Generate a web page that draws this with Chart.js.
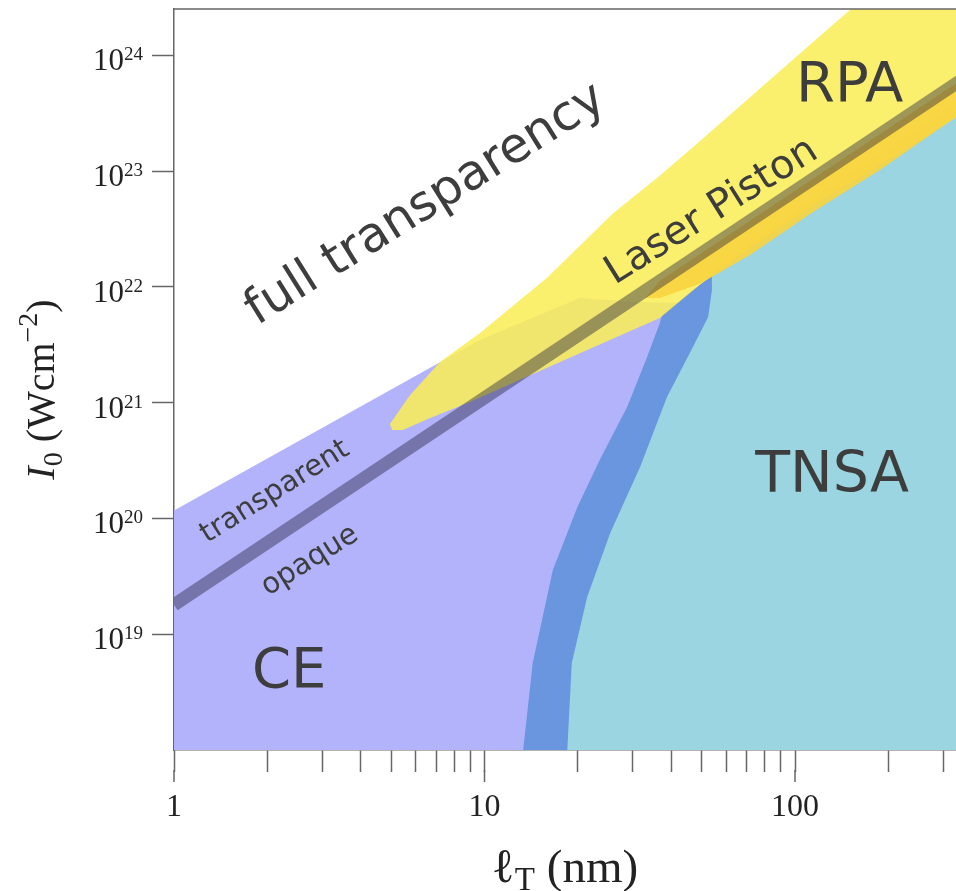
<!DOCTYPE html>
<html>
<head>
<meta charset="utf-8">
<script src="https://cdn.jsdelivr.net/npm/chart.js@4.4.1/dist/chart.umd.min.js"></script>
<style>
  html, body { margin: 0; padding: 0; background: #fff; }
  #wrap { width: 956px; height: 891px; position: relative; }
</style>
</head>
<body>
<div id="wrap"><canvas id="regimes"></canvas></div>
<script>
// target thickness l_T (nm) against intensity I0 (W/cm^2), both log
const xTicks = [1, 2, 3, 4, 5, 6, 7, 8, 9, 10, 20, 30, 40, 50, 60, 70, 80, 90, 100, 200, 300];
const xLabelled = [1, 10, 100];
const yTicks = [1e19, 1e20, 1e21, 1e22, 1e23, 1e24];

// regime outlines, each walked round as a closed shape
const ceX = [0.9, 0.9, 9.67, 20.3, 30.5, 45.9, 46.9, 38.7, 31.7, 25.4, 21.4, 19.1, 18.4];
const ceY = [8e17, 1.0e20, 3.47e21, 8.0e21, 7.4e21, 7.2e21, 3.02e21, 1.12e21, 2.78e20, 7.48e19, 2.09e19, 5.64e18, 8e17];

const edgeX = [13.2, 14.3, 16.6, 19.9, 23.5, 28.8, 33.4, 36.7, 37.3, 45.9, 54.0, 71.6, 114.3, 187.8, 330, 457, 457];
const edgeY = [8e17, 5.64e18, 3.58e19, 1.25e20, 3.19e20, 9.16e20, 2.48e21, 4.86e21, 5.7e21, 9.0e21, 1.26e22, 2.30e22, 5.62e22, 1.37e23, 3.72e23, 6.6e23, 8e17];

const tnsaX = [18.4, 19.1, 21.4, 25.4, 31.7, 38.7, 46.9, 52.5, 54.0, 54.0, 71.6, 114.3, 187.8, 330, 457, 457];
const tnsaY = [8e17, 5.64e18, 2.09e19, 7.48e19, 2.78e20, 1.12e21, 3.02e21, 5.48e21, 9.38e21, 1.26e22, 2.30e22, 5.62e22, 1.37e23, 3.72e23, 6.6e23, 8e17];

const rpaX = [4.96, 5.75, 7.19, 9.67, 15.9, 25.9, 36.5, 46.9, 70.0, 114.3, 150, 188, 457, 457, 187.8, 114.3, 71.6, 49.4, 36.7, 24.1, 14.8, 8.98, 6.68, 5.46, 5.04];
const rpaY = [6.53e20, 1.16e21, 2.24e21, 3.99e21, 1.2e22, 4.3e22, 9.0e22, 1.6e23, 4.10e23, 1.30e24, 2.45e24, 4.46e24, 4.46e24, 5.0e23, 1.13e23, 5.08e22, 2.16e22, 1.04e22, 5.38e21, 3.27e21, 1.84e21, 1.01e21, 7.36e20, 5.8e20, 5.8e20];

const pistonX = [32.9, 36.7, 457, 457, 330, 187.8, 114.3, 71.6, 49.4, 36.7];
const pistonY = [8.0e21, 1.12e22, 1.02e24, 5.0e23, 2.92e23, 1.02e23, 4.43e22, 1.88e22, 1.06e22, 8.0e21];

// transparent / opaque boundary
const boundaryX = [1, 457];
const boundaryY = [1.79e19, 1.02e24];

// region names, anchored in data units
const labelText = ['full transparency', 'Laser Piston', 'transparent', 'opaque', 'RPA', 'TNSA', 'CE'];
const labelX = [6.48, 54.0, 2.115, 2.74, 150, 131.6, 2.35];
const labelY = [5.08e22, 4.43e22, 1.69e20, 4.29e19, 5.42e23, 2.28e20, 4.72e18];
const labelSize = [49, 40, 29, 29, 56, 57, 56];
const labelAngle = [-32, -32, -32, -32, 0, 0, 0];

const axisColor = '#666';
const serif = '"Liberation Serif", "DejaVu Serif", serif';

function region(xs, ys, colour) {
    return {
        data: xs.map((v, i) => ({ x: v, y: ys[i] })),
        showLine: true,
        fill: 'shape',
        backgroundColor: colour,
        borderColor: 'transparent',
        borderWidth: 0,
        pointRadius: 0,
        clip: 0
    };
}

// draws runs of text with their own font and baseline shift, centred on cx
function richText(ctx, parts, cx, cy) {
    let w = 0;
    parts.forEach(p => { ctx.font = p.font; p.w = ctx.measureText(p.t).width; w += p.w; });
    let px = cx - w / 2;
    ctx.textAlign = 'left';
    ctx.textBaseline = 'alphabetic';
    parts.forEach(p => {
        ctx.font = p.font;
        ctx.fillText(p.t, px, cy + (p.dy || 0));
        px += p.w;
    });
}

const decorations = {
    id: 'decorations',
    afterDatasetsDraw(chart) {
        const { ctx, scales: { x, y } } = chart;
        ctx.save();
        ctx.fillStyle = '#3d3d3d';
        ctx.textAlign = 'center';
        ctx.textBaseline = 'middle';
        labelText.forEach((t, i) => {
            ctx.save();
            ctx.translate(x.getPixelForValue(labelX[i]), y.getPixelForValue(labelY[i]));
            ctx.rotate(labelAngle[i] * Math.PI / 180);
            ctx.font = labelSize[i] + 'px "DejaVu Sans"';
            ctx.fillText(t, 0, 0);
            ctx.restore();
        });
        ctx.restore();
    },
    afterDraw(chart) {
        const { ctx, chartArea: a, scales: { x, y } } = chart;
        ctx.save();
        ctx.strokeStyle = axisColor;
        ctx.lineWidth = 1.5;

        // frame along the top
        ctx.beginPath();
        ctx.moveTo(a.left, a.top);
        ctx.lineTo(a.right, a.top);
        ctx.stroke();

        // decades get the longer mark
        xLabelled.forEach(v => {
            const px = x.getPixelForValue(v);
            ctx.beginPath();
            ctx.moveTo(px, a.bottom + 20);
            ctx.lineTo(px, a.bottom + 32);
            ctx.stroke();
        });

        // 10^n labels on the y axis
        ctx.fillStyle = '#222';
        ctx.textBaseline = 'alphabetic';
        ctx.textAlign = 'right';
        yTicks.forEach(v => {
            const py = y.getPixelForValue(v);
            const e = String(Math.round(Math.log10(v)));
            ctx.font = '19px ' + serif;
            const ew = ctx.measureText(e).width;
            ctx.fillText(e, a.left - 31, py + 5);
            ctx.font = '31px ' + serif;
            ctx.fillText('10', a.left - 31 - ew, py + 15);
        });

        // axis titles
        richText(ctx, [
            { t: 'ℓ', font: '48px ' + serif },
            { t: 'T', font: '33px ' + serif, dy: 8 },
            { t: ' (nm)', font: '47px ' + serif }
        ], (a.left + a.right) / 2, a.bottom + 132);

        ctx.save();
        ctx.translate(54, (a.top + a.bottom) / 2 + 10);
        ctx.rotate(-Math.PI / 2);
        richText(ctx, [
            { t: 'I', font: 'italic 40px ' + serif },
            { t: '0', font: '28px ' + serif, dy: 8 },
            { t: ' (Wcm', font: '40px ' + serif },
            { t: '−2', font: '28px ' + serif, dy: -17 },
            { t: ')', font: '40px ' + serif }
        ], 0, 0);
        ctx.restore();

        ctx.restore();
    }
};

new Chart(document.getElementById('regimes'), {
    type: 'scatter',
    data: {
        datasets: [
            {
                data: boundaryX.map((v, i) => ({ x: v, y: boundaryY[i] })),
                showLine: true,
                fill: false,
                borderColor: 'rgba(30,30,60,0.42)',
                borderWidth: 13,
                borderCapStyle: 'butt',
                pointRadius: 0,
                clip: 0
            },
            region(pistonX, pistonY, 'rgba(248,212,64,0.92)'),
            region(rpaX, rpaY, 'rgba(250,237,84,0.85)'),
            region(tnsaX, tnsaY, '#9ad5e1'),
            region(edgeX, edgeY, '#6a95df'),
            region(ceX, ceY, '#b3b3fb')
        ]
    },
    options: {
        responsive: true,
        maintainAspectRatio: false,
        animation: false,
        events: [],
        layout: { padding: { left: 0, right: 0, top: 9, bottom: 0 } },
        plugins: { legend: { display: false }, tooltip: { enabled: false } },
        scales: {
            x: {
                type: 'logarithmic',
                min: 1,
                max: 330,
                afterBuildTicks: s => { s.ticks = xTicks.map(v => ({ value: v })); },
                afterFit: s => { s.height = 141; },
                border: { color: axisColor, width: 1.5 },
                grid: { drawOnChartArea: false, tickLength: 22, color: axisColor, tickWidth: 1.5 },
                ticks: {
                    autoSkip: false,
                    maxRotation: 0,
                    padding: 12,
                    color: '#222',
                    font: { family: serif, size: 32, lineHeight: 1.5 },
                    callback: v => xLabelled.includes(v) ? String(v) : ''
                }
            },
            y: {
                type: 'logarithmic',
                min: 1e18,
                max: 2.506e24,
                afterBuildTicks: s => { s.ticks = yTicks.map(v => ({ value: v })); },
                afterFit: s => { s.width = 174; },
                border: { color: axisColor, width: 1.5 },
                grid: { drawOnChartArea: false, tickLength: 22, color: axisColor, tickWidth: 1.5 },
                ticks: { display: false }
            }
        }
    },
    plugins: [decorations]
});
</script>
</body>
</html>
